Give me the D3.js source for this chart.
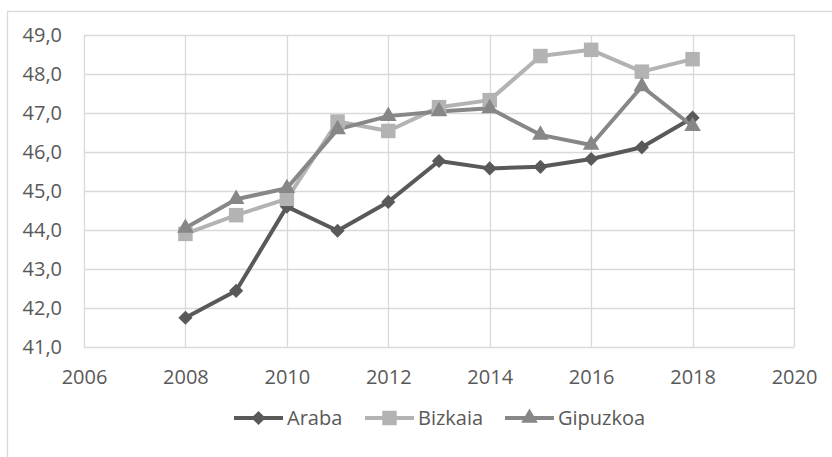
<!DOCTYPE html>
<html>
<head>
<meta charset="utf-8">
<script src="https://cdn.jsdelivr.net/npm/d3@7"></script>
<style>
  body { margin: 0; background: #fff; }
  svg { display: block; font-family: "Open Sans", sans-serif; }
</style>
</head>
<body>
<svg id="chart" width="832" height="457"></svg>
<script>
var years = [2008, 2009, 2010, 2011, 2012, 2013, 2014, 2015, 2016, 2017, 2018];
var araba    = [41.75, 42.44, 44.6, 43.98, 44.72, 45.77, 45.58, 45.62, 45.82, 46.12, 46.88];
var bizkaia  = [43.9, 44.38, 44.8, 46.78, 46.54, 47.15, 47.33, 48.46, 48.62, 48.06, 48.38];
var gipuzkoa = [44.05, 44.79, 45.07, 46.58, 46.92, 47.04, 47.12, 46.44, 46.18, 47.68, 46.66];
var xTicks = [2006, 2008, 2010, 2012, 2014, 2016, 2018, 2020];
var yTicks = [41, 42, 43, 44, 45, 46, 47, 48, 49];

var series = [
  {name: "Araba", values: araba, color: "#595959", symbol: d3.symbolSquare, size: 100, rotate: 45},
  {name: "Bizkaia", values: bizkaia, color: "#b3b3b3", symbol: d3.symbolSquare, size: 210, rotate: 0},
  {name: "Gipuzkoa", values: gipuzkoa, color: "#878787", symbol: d3.symbolTriangle, size: 120, rotate: 0}
];

var margin = {top: 35, right: 38, bottom: 110, left: 84},
    width = 832 - margin.left - margin.right,
    height = 457 - margin.top - margin.bottom;

var svg = d3.select("#chart");

// outer chart border (cropped at right / bottom)
svg.append("rect")
  .attr("x", 7.5).attr("y", 11.5)
  .attr("width", 900).attr("height", 600)
  .attr("fill", "none")
  .attr("stroke", "#d9d9d9")
  .attr("stroke-width", 1.3);

var g = svg.append("g")
  .attr("transform", "translate(" + margin.left + "," + margin.top + ")");

var x = d3.scaleLinear().domain([2006, 2020]).range([0, width]);
var y = d3.scaleLinear().domain([41, 49]).range([height, 0]);

// gridlines
g.append("g").selectAll("line.h")
  .data(yTicks)
  .enter().append("line")
    .attr("x1", 0).attr("x2", width)
    .attr("y1", function(d) { return Math.round(y(d)) + 0.5; })
    .attr("y2", function(d) { return Math.round(y(d)) + 0.5; })
    .attr("stroke", "#d9d9d9").attr("stroke-width", 1.3);

g.append("g").selectAll("line.v")
  .data(xTicks)
  .enter().append("line")
    .attr("y1", 0).attr("y2", height)
    .attr("x1", function(d) { return Math.round(x(d)) + 0.5; })
    .attr("x2", function(d) { return Math.round(x(d)) + 0.5; })
    .attr("stroke", "#d9d9d9").attr("stroke-width", 1.3);

// y axis labels
var yAxis = g.append("g")
  .call(d3.axisLeft(y).tickValues(yTicks).tickSize(0).tickPadding(22)
    .tickFormat(function(d) { return d3.format(".1f")(d).replace(".", ","); }));
yAxis.select(".domain").remove();

// x axis labels
var xAxis = g.append("g")
  .attr("transform", "translate(0," + height + ")")
  .call(d3.axisBottom(x).tickValues(xTicks).tickSize(0).tickPadding(23).tickFormat(d3.format("d")));
xAxis.select(".domain").remove();

g.selectAll(".tick text")
  .style("font-family", "'Open Sans', sans-serif")
  .style("font-size", "20px")
  .attr("fill", "#595959");

// lines and markers
var line = d3.line()
  .x(function(d, i) { return x(years[i]); })
  .y(function(d) { return y(d); });

series.forEach(function(s) {
  g.append("path")
    .datum(s.values)
    .attr("fill", "none")
    .attr("stroke", s.color)
    .attr("stroke-width", 4)
    .attr("stroke-linejoin", "round")
    .attr("d", line);
});

series.forEach(function(s) {
  var sym = d3.symbol().type(s.symbol).size(s.size);
  g.append("g").selectAll("path")
    .data(s.values)
    .enter().append("path")
      .attr("d", sym)
      .attr("fill", s.color)
      .attr("transform", function(d, i) {
        return "translate(" + x(years[i]) + "," + y(d) + ") rotate(" + s.rotate + ")";
      });
});

// legend
var legendX = [234, 365, 505];
var legend = svg.append("g").attr("transform", "translate(0,418)");
series.forEach(function(s, i) {
  var lg = legend.append("g").attr("transform", "translate(" + legendX[i] + ",0)");
  lg.append("line")
    .attr("x1", 0).attr("x2", 49)
    .attr("y1", 0).attr("y2", 0)
    .attr("stroke", s.color).attr("stroke-width", 4);
  lg.append("path")
    .attr("d", d3.symbol().type(s.symbol).size(s.size))
    .attr("fill", s.color)
    .attr("transform", "translate(24.5,0) rotate(" + s.rotate + ")");
  lg.append("text")
    .attr("x", 53).attr("y", 0)
    .attr("dy", "0.35em")
    .style("font-size", "20px")
    .attr("fill", "#595959")
    .text(s.name);
});
</script>
</body>
</html>
